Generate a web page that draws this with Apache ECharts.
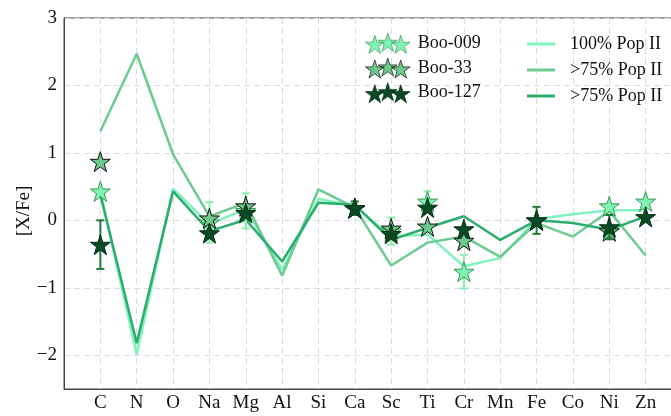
<!DOCTYPE html>
<html>
<head>
<meta charset="utf-8">
<script src="https://cdn.jsdelivr.net/npm/echarts@6/dist/echarts.min.js"></script>
<style>
  html, body { margin: 0; padding: 0; background: #fff; }
  #chart { width: 671px; height: 416px; }
</style>
</head>
<body>
<div id="chart"></div>
<script>
// Abundance ratios [X/Fe] per element
const elements = ['C', 'N', 'O', 'Na', 'Mg', 'Al', 'Si', 'Ca', 'Sc', 'Ti', 'Cr', 'Mn', 'Fe', 'Co', 'Ni', 'Zn'];
const yTicks = [-2, -1, 0, 1, 2, 3];
const yTitle = '[X/Fe]';

// Model yield curves
const pop100 = [0.43, -1.99, 0.47, -0.06, 0.17, -0.73, 0.32, 0.21, -0.24, -0.21, -0.68, -0.56, 0.02, 0.09, 0.15, 0.15];
const pop75a = [1.32, 2.47, 0.98, 0.06, 0.26, -0.82, 0.46, 0.19, -0.67, -0.33, -0.24, -0.54, -0.04, -0.24, 0.14, -0.52];
const pop75b = [0.38, -1.82, 0.43, -0.16, 0.01, -0.61, 0.26, 0.23, -0.29, -0.11, 0.06, -0.29, 0.00, -0.04, -0.14, 0.06];

// Measured stars
const boo009 = [0.43, null, null, -0.03, 0.14, null, null, 0.18, -0.16, 0.28, -0.76, null, 0.00, null, 0.21, 0.28];
const boo009Err = [null, null, null, 0.30, 0.26, null, null, 0.10, 0.20, 0.15, 0.25, null, null, null, null, null];
const boo33 = [0.87, null, null, 0.03, 0.21, null, null, 0.18, -0.12, -0.09, -0.30, null, 0.00, null, -0.16, null];
const boo127 = [-0.36, null, null, -0.19, 0.11, null, null, 0.18, -0.20, 0.19, -0.13, null, 0.00, null, -0.10, 0.05];
const boo127Err = [0.36, null, null, null, null, null, null, 0.10, null, null, null, null, 0.20, null, 0.18, null];

const FONT = 'Liberation Serif';
const STAR = 'path://M10,0 L12.245,6.91 L19.51,6.91 L13.63,11.18 L15.88,18.09 L10,13.82 L4.12,18.09 L6.37,11.18 L0.49,6.91 L7.755,6.91 Z';

// three overlapping stars for the legend key
function starAt(dx, dy) {
  const pts = [[10,0],[12.245,6.91],[19.51,6.91],[13.63,11.18],[15.88,18.09],[10,13.82],[4.12,18.09],[6.37,11.18],[0.49,6.91],[7.755,6.91]];
  return 'M' + pts.map(p => (p[0] + dx).toFixed(2) + ',' + (p[1] + dy).toFixed(2)).join(' L') + ' Z';
}
const STAR3 = 'path://' + starAt(26, 2) + ' ' + starAt(13, 0) + ' ' + starAt(0, 2);

const pairs = vals => vals.map((v, i) => v == null ? null : [i, v]).filter(Boolean);
const curve = vals => vals.map((v, i) => [i, v]);
function errData(vals, errs) {
  return vals.map((v, i) => (v != null && errs[i] != null) ? [i, v - errs[i], v + errs[i]] : null).filter(Boolean);
}
function errRender(color) {
  return function (params, api) {
    const x = api.value(0);
    const lo = api.coord([x, api.value(1)]);
    const hi = api.coord([x, api.value(2)]);
    const cap = 4;
    const style = { stroke: color, lineWidth: 2, fill: null };
    return {
      type: 'group',
      children: [
        { type: 'line', shape: { x1: lo[0], y1: lo[1], x2: hi[0], y2: hi[1] }, style },
        { type: 'line', shape: { x1: lo[0] - cap, y1: lo[1], x2: lo[0] + cap, y2: lo[1] }, style },
        { type: 'line', shape: { x1: hi[0] - cap, y1: hi[1], x2: hi[0] + cap, y2: hi[1] }, style }
      ]
    };
  };
}

function lineSeries(name, vals, color) {
  return {
    name, type: 'line', data: curve(vals), symbol: 'none', z: 2,
    color, lineStyle: { color, width: 2.5 }, itemStyle: { color },
    animation: false
  };
}
function starSeries(name, vals, fill, border, z) {
  return {
    name, type: 'scatter', data: pairs(vals), symbol: STAR, symbolSize: 20, z,
    itemStyle: { color: fill, borderColor: border, borderWidth: 1, opacity: 1 },
    animation: false
  };
}
function errSeries(vals, errs, color, z) {
  return {
    type: 'custom', data: errData(vals, errs), renderItem: errRender(color),
    encode: { x: 0, y: [1, 2] }, z, silent: true, animation: false
  };
}

const chart = echarts.init(document.getElementById('chart'), null, { renderer: 'canvas' });
chart.setOption({
  backgroundColor: '#fff',
  animation: false,
  grid: {
    left: 64, top: 18, bottom: 27, right: -11, outerBoundsMode: 'none', containLabel: false,
    show: true, borderColor: '#444', borderWidth: 1, backgroundColor: 'transparent'
  },
  xAxis: {
    type: 'value', min: -1, max: 16, interval: 1,
    axisLine: { show: true, onZero: false, lineStyle: { color: '#444', width: 1 } },
    axisTick: { show: false },
    axisLabel: {
      formatter: v => elements[v] || '', fontFamily: FONT, fontSize: 19, color: '#111', margin: 5,
      showMinLabel: true, showMaxLabel: true
    },
    splitLine: { show: true, lineStyle: { color: '#dcdcdc', type: [6, 4], width: 1 } }
  },
  yAxis: {
    type: 'value', min: -2.5, max: 3,
    axisLine: { show: true, onZero: false, lineStyle: { color: '#444', width: 1 } },
    axisTick: { show: false, customValues: yTicks },
    axisLabel: {
      customValues: yTicks, fontFamily: FONT, fontSize: 19, color: '#111', margin: 7,
      formatter: v => (v < 0 ? '\u2212' + Math.abs(v) : String(v))
    },
    splitLine: { show: true, lineStyle: { color: '#dcdcdc', type: [6, 4], width: 1 } }
  },
  graphic: [
    {
      type: 'text', x: 24, y: 211, rotation: Math.PI / 2,
      style: { text: yTitle, font: '19px "Liberation Serif"', fill: '#111', align: 'center', verticalAlign: 'middle' }
    }
  ],
  legend: [
    {
      data: ['Boo-009', 'Boo-33', 'Boo-127'],
      orient: 'vertical', left: 360, top: 28,
      itemWidth: 46, itemHeight: 20, itemGap: 4, icon: STAR3,
      itemStyle: { borderWidth: 0.7 },
      textStyle: { fontFamily: FONT, fontSize: 18, color: '#111', lineHeight: 20, padding: [0, 0, 0, 2] }
    },
    {
      data: ['100% Pop II', '>75% Pop II', '>75% Pop II '],
      orient: 'vertical', left: 522, top: 29,
      itemWidth: 28, itemHeight: 3, itemGap: 6, icon: 'rect',
      textStyle: { fontFamily: FONT, fontSize: 18, color: '#111', lineHeight: 20, padding: [0, 0, 0, 10] }
    }
  ],
  series: [
    lineSeries('100% Pop II', pop100, '#80f3c0'),
    lineSeries('>75% Pop II', pop75a, '#6ccb90'),
    lineSeries('>75% Pop II ', pop75b, '#2bad6d'),
    errSeries(boo009, boo009Err, '#8beeaa', 3),
    starSeries('Boo-009', boo009, '#7ff2b6', '#3a9a50', 4),
    starSeries('Boo-33', boo33, '#6cc88b', '#111111', 5),
    errSeries(boo127, boo127Err, '#1f7a3a', 6),
    starSeries('Boo-127', boo127, '#0a4a22', '#05301a', 7)
  ]
});
</script>
</body>
</html>
